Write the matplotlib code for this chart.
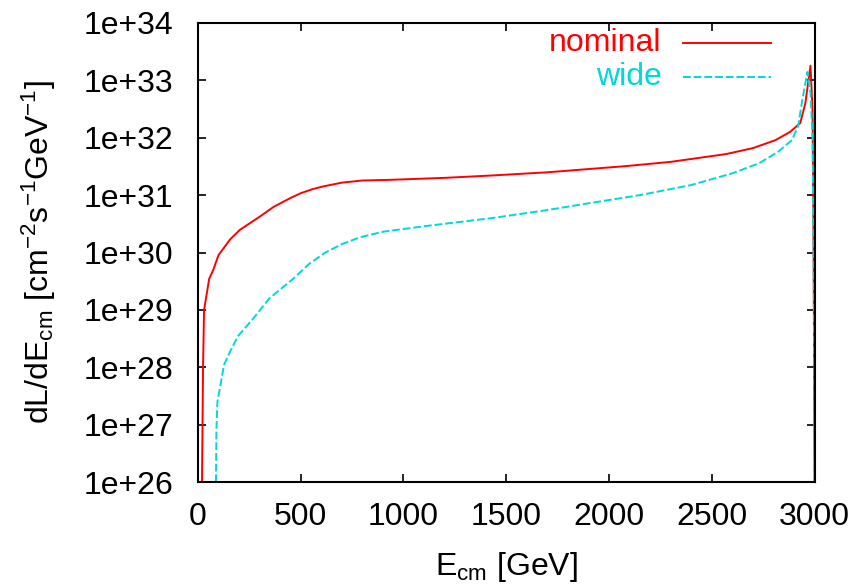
import numpy as np
import matplotlib
matplotlib.use("Agg")
import matplotlib.pyplot as plt
from matplotlib.ticker import LogLocator, NullFormatter, FixedLocator, FixedFormatter

plt.rcParams['font.family'] = ['Liberation Sans', 'DejaVu Sans']
plt.rcParams['mathtext.fontset'] = 'custom'
plt.rcParams['mathtext.rm'] = 'Liberation Sans'
plt.rcParams['mathtext.it'] = 'Liberation Sans'
plt.rcParams['mathtext.bf'] = 'Liberation Sans'

# ---- data ----
nominal_E = [20, 25, 30, 55, 75, 100, 157, 205, 300, 370, 450, 500, 560, 610, 700, 800,
             940, 1200, 1430, 1700, 2080, 2300, 2570, 2700, 2810, 2880, 2930, 2955,
             2970, 2980, 2990, 2995, 3000]
nominal_L = [1e26, 1e28, 1e29, 3.5e29, 5e29, 9e29, 1.7e30, 2.5e30, 4.2e30, 6.3e30,
             8.9e30, 1.08e31, 1.28e31, 1.42e31, 1.65e31, 1.8e31, 1.85e31, 2.0e31, 2.2e31, 2.5e31,
             3.2e31, 3.8e31, 5.2e31, 6.6e31, 9.1e31, 1.26e32, 1.8e32, 4e32, 1e33,
             1.8e33, 3e32, 1e30, 1e26]

wide_E = [88, 90, 95, 110, 127, 160, 195, 268, 348, 464, 540, 620, 700, 790, 900,
          1110, 1300, 1434, 1700, 1920, 2150, 2400, 2600, 2730, 2820, 2890, 2920,
          2940, 2965, 2980, 2990, 2997, 3000]
wide_L = [1e26, 8e26, 2.5e27, 5e27, 1.1e28, 2e28, 3.5e28, 7e28, 1.6e29, 3.5e29,
          6.3e29, 1e30, 1.4e30, 1.85e30, 2.3e30, 2.9e30, 3.5e30, 4e30, 5.5e30,
          7.4e30, 1e31, 1.5e31, 2.4e31, 3.6e31, 5.6e31, 9.1e31, 1.6e32, 4.5e32,
          1.4e33, 6e32, 1e32, 1e29, 1e26]

series_labels = ["nominal", "wide"]
series_colors = ["#ff0000", "#00d8d8"]
x_ticks = [0, 500, 1000, 1500, 2000, 2500, 3000]
y_ticks = [1e26, 1e27, 1e28, 1e29, 1e30, 1e31, 1e32, 1e33, 1e34]
y_tick_labels = ["1e+26", "1e+27", "1e+28", "1e+29", "1e+30", "1e+31", "1e+32",
                 "1e+33", "1e+34"]

fig = plt.figure(figsize=(8.53, 5.88), dpi=100)
ax = fig.add_axes([0.232, 0.180, 0.723, 0.781])

dash = (0, (4, 1.5))
ax.plot(nominal_E, nominal_L, color=series_colors[0], lw=1.4)
ax.plot(wide_E, wide_L, color=series_colors[1], lw=1.4, ls=dash)

ax.set_yscale('log')
ax.set_xlim(0, 3000)
ax.set_ylim(1e26, 1e34)

ax.xaxis.set_major_locator(FixedLocator(x_ticks))
ax.set_xticklabels([str(t) for t in x_ticks])
ax.yaxis.set_major_locator(FixedLocator(y_ticks))
ax.yaxis.set_major_formatter(FixedFormatter(y_tick_labels))
ax.yaxis.set_minor_locator(LogLocator(base=10, subs=np.arange(2, 10)))
ax.yaxis.set_minor_formatter(NullFormatter())

ax.tick_params(which='both', direction='in', top=True, right=True, width=1.2)
ax.tick_params(which='major', length=6, labelsize=23)
ax.tick_params(axis='x', which='major', pad=14)
ax.tick_params(axis='y', which='major', pad=18)
ax.tick_params(which='minor', length=3)
for s in ax.spines.values():
    s.set_linewidth(1.5)

ax.set_xlabel(r"E$_{\mathrm{cm}}$ [GeV]", fontsize=23, labelpad=13)
ax.set_ylabel(r"dL/dE$_{\mathrm{cm}}$ [cm$^{-2}$s$^{-1}$GeV$^{-1}$]", fontsize=23, labelpad=18)

# key
key_y = [0.956, 0.882]
for lab, col, ky, ls in zip(series_labels, series_colors, key_y, ['-', dash]):
    ax.text(0.752, ky, lab, color=col, fontsize=23, ha='right', va='center',
            transform=ax.transAxes)
    ax.plot([0.786, 0.929], [ky, ky], color=col, lw=1.4, ls=ls, transform=ax.transAxes)

fig.savefig("out.png", dpi=100)
